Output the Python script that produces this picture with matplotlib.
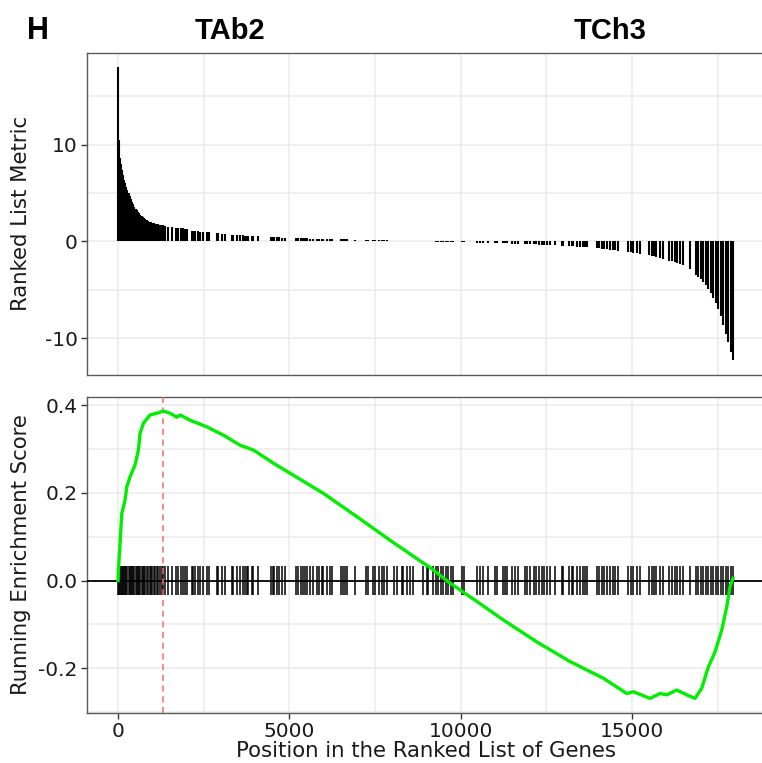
import matplotlib
matplotlib.use('Agg')
import matplotlib.pyplot as plt
from matplotlib.ticker import MultipleLocator, FixedLocator

# --- data ---
# positions of the gene-set hits in the ranked list
hit_pos = [1, 25, 50, 80, 110, 140, 175, 205, 240, 270, 305, 340, 372, 405, 440,
           475, 510, 545, 580, 615, 650, 690, 725, 760, 800, 840, 880, 920, 960,
           1000, 1045, 1090, 1135, 1180, 1225, 1270, 1320,
           1372, 1469, 1567, 1683, 1761, 1829, 1907, 1956, 2024, 2150, 2199, 2248,
           2345, 2394, 2491, 2588, 2656, 2880, 2929, 3026, 3123, 3318, 3367, 3464,
           3562, 3659, 3707, 3756, 3805, 3902, 3951, 4096, 4534,
           4456, 4554, 4632, 4709, 4778, 4875, 5196, 5264, 5332, 5391, 5459, 5527,
           5605, 5682, 5819, 5877, 5945, 5994, 6091, 6188, 6237, 6500, 6558, 6626,
           6694, 6918, 7239, 7307, 7434, 7492, 7628, 7697, 7765, 7843, 8057, 8134,
           8280, 8329, 8426, 8524, 8621, 8913, 9010, 9059, 9205,
           9282, 9350, 9418, 9496, 9574, 9642, 9710, 9788, 10031, 10099, 10469,
           10567, 10664, 10810, 11004, 11053, 11228, 11296, 11364, 11491, 11588,
           11685, 11880, 11929, 12026, 12143, 12201, 12298, 12367, 12435, 12513,
           12610, 12756, 12950, 12999, 13174, 13242, 13291, 13408, 13486, 13563,
           13631, 13700,
           13973, 14050, 14119, 14187, 14265, 14362, 14440, 14508, 14605, 14897,
           14965, 15043, 15160, 15238, 15510, 15578, 15646, 15705, 15821, 15919,
           16094, 16162, 16259, 16327, 16405, 16502, 16697, 16872, 16940, 17008,
           17086, 17164, 17232, 17300, 17378, 17456, 17524, 17592, 17670, 17748,
           17816, 17884, 17942]

# ranked list metric at each hit
hit_metric = [18.0, 10.5, 8.6, 8.0, 7.35, 6.9, 6.4, 6.05, 5.6, 5.3, 5.0, 4.65, 4.35,
              4.1, 3.85, 3.6, 3.4, 3.2, 3.05, 2.9, 2.75, 2.62, 2.5, 2.4, 2.3, 2.2,
              2.12, 2.05, 1.99, 1.94, 1.89, 1.85, 1.81, 1.77, 1.73, 1.7, 1.66,
              1.6, 1.5, 1.45, 1.42, 1.4, 1.37, 1.34, 1.31, 1.28, 1.1, 1.08, 1.06,
              1.04, 1.02, 1.0, 0.98, 0.96, 0.85, 0.83, 0.8, 0.77, 0.7, 0.68, 0.66,
              0.64, 0.62, 0.61, 0.6, 0.59, 0.57, 0.56, 0.53, 0.45,
              0.45, 0.43, 0.42, 0.41, 0.4, 0.38, 0.35, 0.34, 0.33, 0.33, 0.32, 0.31,
              0.3, 0.3, 0.28, 0.28, 0.27, 0.27, 0.26, 0.25, 0.24, 0.22, 0.21, 0.2,
              0.2, 0.18, 0.15, 0.14, 0.13, 0.13, 0.12, 0.11, 0.11, 0.1, 0.09, 0.08,
              0.07, 0.07, 0.06, 0.05, 0.05, 0.03, 0.02, 0.02, 0.01,
              -0.01, -0.02, -0.03, -0.03, -0.04, -0.05, -0.05, -0.06, -0.08, -0.09,
              -0.12, -0.13, -0.14, -0.15, -0.17, -0.18, -0.2, -0.2, -0.21, -0.22,
              -0.23, -0.24, -0.26, -0.27, -0.28, -0.3, -0.3, -0.32, -0.33, -0.34,
              -0.35, -0.37, -0.4, -0.44, -0.45, -0.49, -0.5, -0.52, -0.54, -0.56,
              -0.58, -0.6, -0.62,
              -0.7, -0.73, -0.76, -0.79, -0.82, -0.86, -0.9, -0.93, -0.97, -1.1,
              -1.13, -1.17, -1.24, -1.28, -1.45, -1.5, -1.55, -1.6, -1.7, -1.8,
              -1.98, -2.05, -2.15, -2.22, -2.3, -2.45, -2.9, -3.45, -3.65, -3.9,
              -4.2, -4.5, -4.95, -5.35, -5.8, -6.4, -7.0, -7.7, -8.6, -9.55,
              -10.4, -11.4, -12.3]

# running enrichment score
es_pos = [0, 10, 58, 108, 204, 254, 350, 496, 593, 642, 739, 934, 1129, 1323,
          1518, 1712, 1810, 2102, 2588, 3074, 3561, 3950, 4533, 5020, 5508, 5994,
          6967, 7939, 8815, 9107, 9641, 10274, 11246, 12221, 13193, 14165, 14848,
          15041, 15528, 15820, 16016, 16307, 16599, 16842, 17037, 17231, 17426,
          17621, 17767, 17863, 17950]
es_val = [0.0, 0.024, 0.085, 0.153, 0.184, 0.214, 0.237, 0.264, 0.298, 0.336,
          0.359, 0.378, 0.382, 0.387, 0.382, 0.373, 0.378, 0.366, 0.351, 0.332,
          0.309, 0.298, 0.268, 0.245, 0.222, 0.199, 0.146, 0.092, 0.045, 0.03,
          -0.003, -0.037, -0.090, -0.140, -0.185, -0.223, -0.258, -0.254, -0.269,
          -0.258, -0.261, -0.250, -0.261, -0.269, -0.246, -0.197, -0.163, -0.113,
          -0.060, -0.014, 0.005]

peak_pos = 1323
n_genes = 17950
hit_half = 0.033

xticks = [0, 5000, 10000, 15000]
tick_labels = ['0', '5000', '10000', '15000']
group_up = 'TAb2'
group_down = 'TCh3'

# --- figure ---
plt.rcParams['font.family'] = ['DejaVu Sans']
plt.rcParams['axes.unicode_minus'] = False
grid_col = '#EBEBEB'
border_col = '#5a5a5a'
text_col = '#1a1a1a'

fig = plt.figure(figsize=(7.62, 7.63), dpi=100)
ax1 = fig.add_axes([0.1146, 0.5085, 0.8877, 0.4224])
ax2 = fig.add_axes([0.1146, 0.0659, 0.8877, 0.4142])

pad = 0.05 * n_genes
for ax in (ax1, ax2):
    ax.set_xlim(-pad, n_genes + pad)
    ax.xaxis.set_major_locator(FixedLocator(xticks))
    ax.xaxis.set_minor_locator(MultipleLocator(2500))
    ax.grid(True, which='both', color=grid_col, linewidth=1.1, zorder=0)
    ax.set_axisbelow(True)
    for sp in ax.spines.values():
        sp.set_color(border_col)
        sp.set_linewidth(1.0)
    ax.tick_params(which='minor', length=0)
    ax.tick_params(which='major', color='#333333', length=4, width=1,
                   labelsize=14.5, labelcolor=text_col, pad=3)

# top: ranked list metric
ax1.vlines(hit_pos, 0, hit_metric, color='black', linewidth=1.5, zorder=3)
lo, hi = min(hit_metric), max(hit_metric)
rng = hi - lo
ax1.set_ylim(lo - 0.05 * rng, hi + 0.05 * rng)
ax1.yaxis.set_major_locator(FixedLocator([-10, 0, 10]))
ax1.yaxis.set_minor_locator(FixedLocator([-15, -5, 5, 15]))
ax1.tick_params(axis='x', which='major', length=0, labelbottom=False)
ax1.set_ylabel('Ranked List Metric', fontsize=15.3, color=text_col)

# bottom: running enrichment score
ax2.vlines(hit_pos, -hit_half, hit_half, color='black', linewidth=1.1, zorder=3)
ax2.axhline(0, color='black', linewidth=1.3, zorder=4)
ax2.axvline(peak_pos, color='#f26b6b', linewidth=1.1, linestyle=(0, (4, 3)), zorder=5)
ax2.plot(es_pos, es_val, color='#00ee00', linewidth=2.4, zorder=6)
lo2 = min(min(es_val), -hit_half)
hi2 = max(max(es_val), hit_half)
rng2 = hi2 - lo2
ax2.set_ylim(lo2 - 0.05 * rng2, hi2 + 0.05 * rng2)
ax2.yaxis.set_major_locator(FixedLocator([-0.2, 0.0, 0.2, 0.4]))
ax2.yaxis.set_minor_locator(FixedLocator([-0.3, -0.1, 0.1, 0.3]))
ax2.set_xticklabels(tick_labels)
ax2.set_ylabel('Running Enrichment Score', fontsize=15.3, color=text_col)
ax2.set_xlabel('Position in the Ranked List of Genes', fontsize=15.3,
               color=text_col, labelpad=0)

ax1.yaxis.set_label_coords(-0.083, 0.5)
ax2.yaxis.set_label_coords(-0.083, 0.5)

# header text
title_font = ['Liberation Sans', 'DejaVu Sans']
fig.text(38 / 762, 1 - 31 / 763, 'H', ha='center', va='center', fontsize=22,
         fontweight='bold', family=title_font)
fig.text(230 / 762, 1 - 31 / 763, group_up, ha='center', va='center', fontsize=21,
         fontweight='bold', family=title_font)
fig.text(610 / 762, 1 - 31 / 763, group_down, ha='center', va='center', fontsize=21,
         fontweight='bold', family=title_font)

fig.savefig('out.png', dpi=100)
